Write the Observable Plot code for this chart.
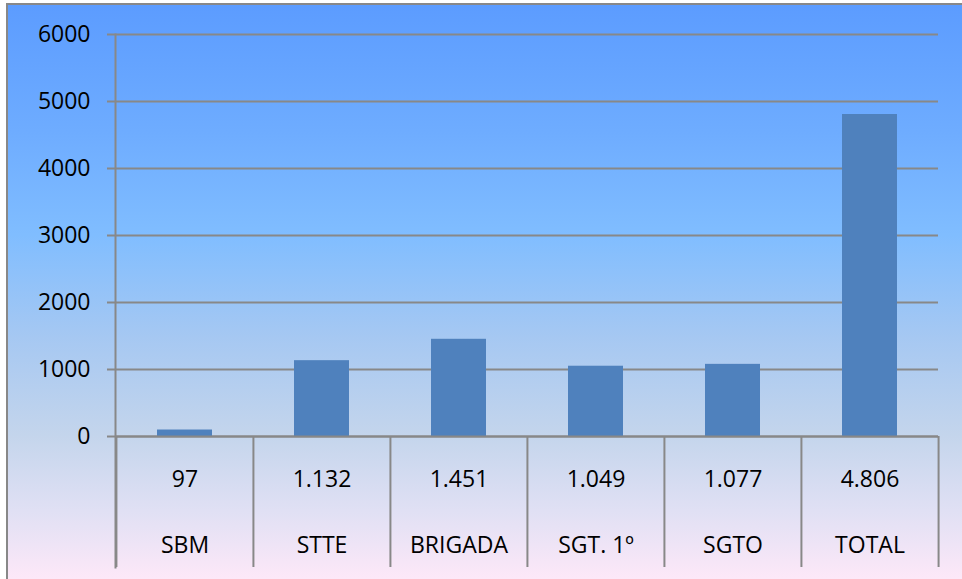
<!DOCTYPE html>
<html>
<head>
<meta charset="utf-8">
<script src="https://cdn.jsdelivr.net/npm/d3@7"></script>
<script src="https://cdn.jsdelivr.net/npm/@observablehq/plot@0.6"></script>
<style>
  html, body { margin: 0; padding: 0; width: 962px; height: 579px; overflow: hidden; }
  #bg {
    position: absolute; left: 6px; top: 3px; width: 1000px; height: 1000px;
    border: 2px solid #888; box-sizing: border-box;
  }
  #bgfill {
    position: absolute; left: 7px; top: 5px; width: 1000px; height: 574px;
    background: linear-gradient(to bottom, #5c9cff 0%, #6eacff 22%, #80bdff 40%, #a6c8f2 58%, #c4d5ec 75%, #e0e0f4 88%, #fde8f8 100%);
  }
  #chart { position: absolute; left: 0; top: 0; }
</style>
</head>
<body>
<div id="bgfill"></div>
<div id="bg"></div>
<div id="chart"></div>
<script>
const categories = ["SBM", "STTE", "BRIGADA", "SGT. 1º", "SGTO", "TOTAL"];
const values = [97, 1132, 1451, 1049, 1077, 4806];
const yTicks = [0, 1000, 2000, 3000, 4000, 5000, 6000];

const ptFormat = d3.formatLocale({decimal: ",", thousands: ".", grouping: [3], currency: ["", ""]}).format(",d");
const data = categories.map((c, i) => ({category: c, value: values[i], label: ptFormat(values[i])}));

const W = 962, H = 579, mL = 115, mR = 24;
const bw = (W - mL - mR) / categories.length;
const font = "'Open Sans', sans-serif";

const chart = Plot.plot({
  width: W,
  height: H,
  marginLeft: mL,
  marginRight: mR,
  marginTop: 34,
  marginBottom: 12,
  style: {background: "transparent", fontFamily: font, color: "#000"},
  x: {domain: categories, padding: 0, axis: null},
  y: {domain: [-1955, 6000], axis: null},
  marks: [
    Plot.gridY(yTicks, {stroke: "#888", strokeOpacity: 1, strokeWidth: 2}),
    Plot.barY(data, {x: "category", y: "value", fill: "#4f81bd", insetLeft: 41, insetRight: 41}),
    Plot.axisY(yTicks, {label: null, tickSize: 8, tickPadding: 17, fontSize: 23, stroke: "#888", strokeWidth: 2, tickFormat: d => String(d), color: "#000"}),
    Plot.frame({anchor: "left", stroke: "#888", strokeWidth: 2}),
    Plot.ruleX(data, {x: "category", dx: -bw / 2, y1: 0, y2: -1955, stroke: "#888", strokeWidth: 2}),
    Plot.ruleX(data.slice(-1), {x: "category", dx: bw / 2, y1: 0, y2: -1955, stroke: "#888", strokeWidth: 2}),
    Plot.gridY([0], {stroke: "#888", strokeOpacity: 1, strokeWidth: 2}),
    Plot.text(data, {x: "category", y: () => -642, text: "label", fontSize: 23, fill: "#000"}),
    Plot.text(data, {x: "category", y: () => -1627, text: "category", fontSize: 23, fill: "#000"})
  ]
});
document.getElementById("chart").appendChild(chart);
</script>
</body>
</html>
